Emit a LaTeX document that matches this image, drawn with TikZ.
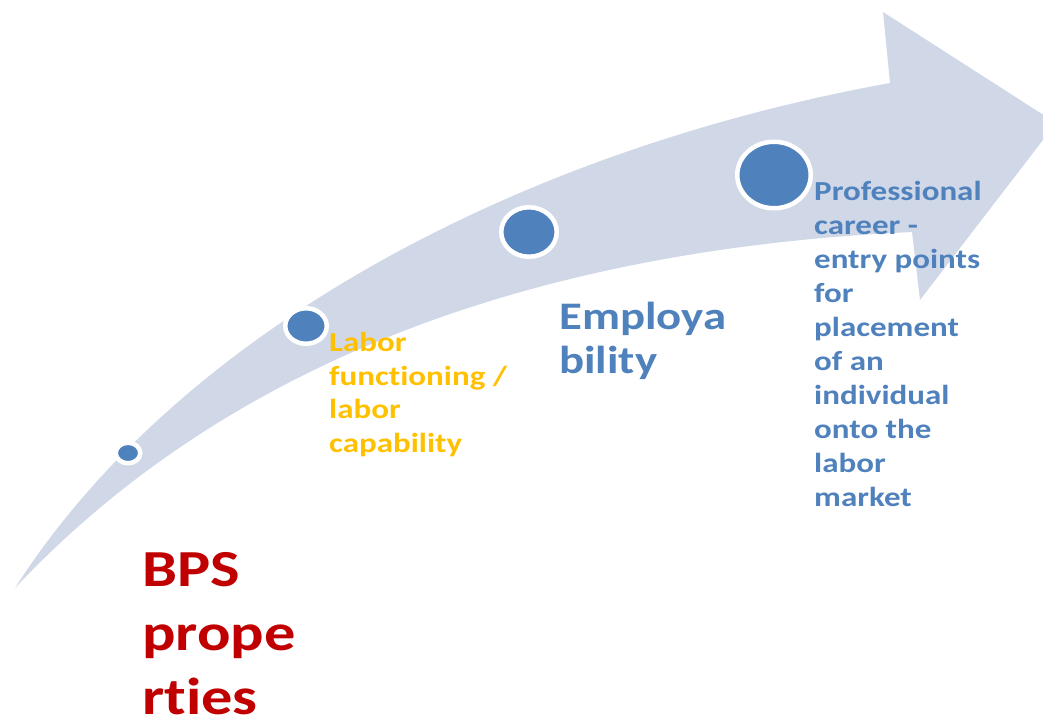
\documentclass[tikz,border=0pt]{standalone}
\usepackage{fontspec}
\setmainfont{Carlito}[FakeStretch=1.2,Ligatures={NoCommon}]
\usepackage{tikz}
\usetikzlibrary{shapes.geometric,positioning}

\begin{document}
\begin{tikzpicture}[x=1pt,y=-1pt,
  stage/.style={ellipse,inner sep=0pt,fill=cdot,draw=white,line width=4.5pt},
  caption/.style={anchor=north west,inner sep=0pt,align=left,font=\bfseries}]
%
\useasboundingbox (0,0) rectangle (1043,720);
\clip (0,0) rectangle (1043,720);
%
\definecolor{cband}{rgb}{0.816,0.847,0.910}
\definecolor{cdot}{rgb}{0.310,0.506,0.741}
\definecolor{cred}{rgb}{0.753,0.0,0.0}
\definecolor{cgold}{rgb}{1.0,0.753,0.0}
\definecolor{cblue}{rgb}{0.310,0.506,0.741}
%
% curved arrow
\fill[cband] (15,588) .. controls (180,330) and (520,150) .. (890,83)
  -- (883,12) -- (1056,123) -- (920,300) -- (912,232)
  .. controls (520,250) and (220,370) .. (15,588) -- cycle;
%
\node[stage,minimum width=24.5pt,minimum height=20.5pt] (s0) at (128,453) {};
\node[stage,minimum width=41.5pt,minimum height=35.5pt] (s1) at (306,326) {};
\node[stage,minimum width=55.5pt,minimum height=49.5pt] (s2) at (529,232) {};
\node[stage,minimum width=73.5pt,minimum height=66.5pt] (s3) at (774,175) {};
%
\node[caption,text=cred,font=\bfseries\fontsize{52}{64}\selectfont] (bps) at (142,552)
  {BPS\\prope\\rties};
\node[caption,text=cgold,font=\bfseries\fontsize{27.5}{33.7}\selectfont] (labor) at (329,332)
  {Labor\\functioning /\\labor\\capability};
\node[caption,text=cblue,font=\bfseries\fontsize{39}{44}\selectfont] (employ) at (559,302)
  {Employa\\bility};
\node[caption,text=cblue,font=\bfseries\fontsize{27.5}{34}\selectfont] (career) at (814,181)
  {Professional\\career -\\entry points\\for\\placement\\of an\\individual\\onto the\\labor\\market};
%
\end{tikzpicture}
\end{document}
